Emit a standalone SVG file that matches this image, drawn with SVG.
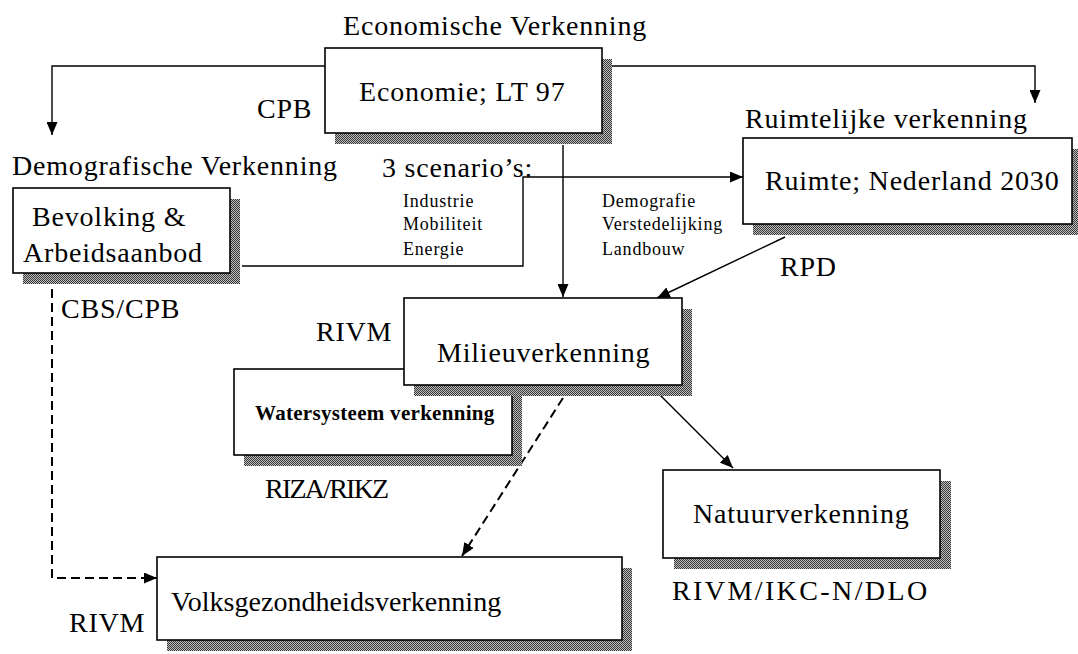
<svg xmlns="http://www.w3.org/2000/svg" width="1078" height="654" viewBox="0 0 1078 654">
  <defs>
    <!-- dithered grey used for the drop shadows -->
    <pattern id="stipple" width="2" height="2" patternUnits="userSpaceOnUse">
      <rect width="2" height="2" fill="#bdbdbd"/>
      <rect width="1" height="1" fill="#3a3a3a"/>
      <rect x="1" y="1" width="1" height="1" fill="#3a3a3a"/>
    </pattern>
    <marker id="arrow" markerUnits="userSpaceOnUse" markerWidth="13" markerHeight="11" refX="13" refY="5.5" orient="auto">
      <path d="M0,0 L13,5.5 L0,11 z" fill="#000"/>
    </marker>
    <style>
      .box { fill: #fff; stroke: #000; stroke-width: 1.6; }
      .shadow { fill: url(#stipple); stroke: none; }
      .t { font-family: "Liberation Serif", "Times New Roman", serif; font-size: 28px; letter-spacing: 0.8px; fill: #000; }
      .s { font-family: "Liberation Serif", "Times New Roman", serif; font-size: 18px; letter-spacing: 0.8px; fill: #000; }
      .b { font-family: "Liberation Serif", "Times New Roman", serif; font-size: 21px; font-weight: bold; letter-spacing: 0.3px; fill: #000; }
      .link { fill: none; stroke: #000; stroke-width: 1.4; }
      .dash { fill: none; stroke: #000; stroke-width: 2; stroke-dasharray: 9 5; }
    </style>
  </defs>

  <rect width="1078" height="654" fill="#fff"/>

  <!-- free labels -->
  <g id="labels">
    <text class="t" x="343" y="35">Economische Verkenning</text>
    <text class="t" x="257" y="118">CPB</text>
    <text class="t" x="12" y="175">Demografische Verkenning</text>
    <text class="t" x="61" y="318">CBS/CPB</text>
    <text class="t" x="382" y="177">3 scenario’s:</text>
    <text class="s" x="403" y="207">Industrie</text>
    <text class="s" x="403" y="230">Mobiliteit</text>
    <text class="s" x="403" y="255">Energie</text>
    <text class="s" x="602" y="207">Demografie</text>
    <text class="s" x="602" y="230">Verstedelijking</text>
    <text class="s" x="602" y="255">Landbouw</text>
    <text class="t" x="745" y="128">Ruimtelijke verkenning</text>
    <text class="t" x="780" y="276">RPD</text>
    <text class="t" x="316" y="341">RIVM</text>
    <text class="t" x="265" y="498" textLength="125" lengthAdjust="spacing">RIZA/RIKZ</text>
    <text class="t" x="672" y="600" textLength="256" lengthAdjust="spacing">RIVM/IKC-N/DLO</text>
    <text class="t" x="69" y="632">RIVM</text>
  </g>

  <!-- connectors -->
  <g id="connectors">
    <polyline class="link" points="325,66 52,66 52,135" marker-end="url(#arrow)"/>
    <polyline class="link" points="612,66 1035,66 1035,103" marker-end="url(#arrow)"/>
    <polyline class="link" points="563,145 563,297" marker-end="url(#arrow)"/>
    <polyline class="link" points="242,266 523,266 523,177 743,177" marker-end="url(#arrow)"/>
    <polyline class="link" points="785,237 657,298" marker-end="url(#arrow)"/>
    <polyline class="link" points="653,388 733,468" marker-end="url(#arrow)"/>
    <polyline class="dash" points="563,398 462,556" marker-end="url(#arrow)"/>
    <polyline class="dash" points="52,275 52,578 157,578" marker-end="url(#arrow)"/>
  </g>

  <g id="economie">
    <rect class="shadow" x="335" y="59" width="277" height="85"/>
    <rect class="box" x="325" y="48" width="277" height="85"/>
    <text class="t" x="359" y="101">Economie; LT 97</text>
  </g>

  <g id="bevolking">
    <rect class="shadow" x="23" y="199" width="217" height="85"/>
    <rect class="box" x="13" y="188" width="217" height="85"/>
    <text class="t" x="32" y="226">Bevolking &amp;</text>
    <text class="t" x="23" y="262">Arbeidsaanbod</text>
  </g>

  <g id="ruimte">
    <rect class="shadow" x="753" y="149" width="329" height="86"/>
    <rect class="box" x="743" y="138" width="329" height="86"/>
    <text class="t" x="765" y="190">Ruimte; Nederland 2030</text>
  </g>

  <g id="watersysteem">
    <rect class="shadow" x="244" y="380" width="278" height="86"/>
    <rect class="box" x="234" y="369" width="278" height="86"/>
    <text class="b" x="255" y="420">Watersysteem verkenning</text>
  </g>

  <g id="milieu">
    <rect class="shadow" x="414" y="309" width="278" height="87"/>
    <rect class="box" x="404" y="298" width="278" height="87"/>
    <text class="t" x="437" y="362">Milieuverkenning</text>
  </g>

  <g id="natuur">
    <rect class="shadow" x="674" y="481" width="277" height="88"/>
    <rect class="box" x="663" y="470" width="277" height="88"/>
    <text class="t" x="693" y="523">Natuurverkenning</text>
  </g>

  <g id="volksgezondheid">
    <rect class="shadow" x="167" y="568" width="465" height="83"/>
    <rect class="box" x="157" y="557" width="465" height="83"/>
    <text class="t" x="171" y="611" textLength="331" lengthAdjust="spacing">Volksgezondheidsverkenning</text>
  </g>
</svg>
